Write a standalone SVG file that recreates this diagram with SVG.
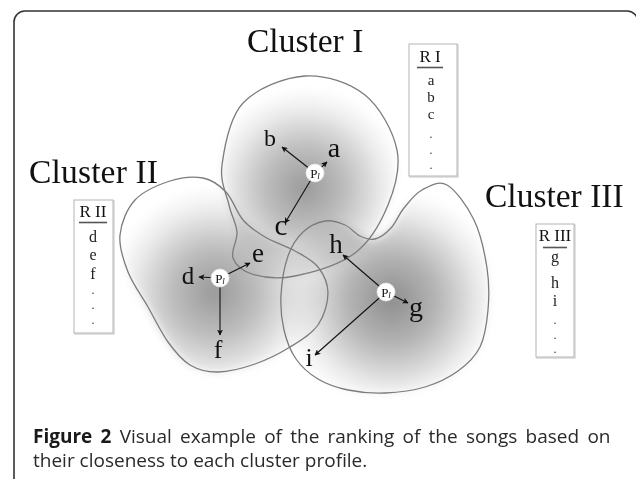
<svg xmlns="http://www.w3.org/2000/svg" width="636" height="479" viewBox="0 0 636 479">
  <style>
    .title { font-family: "Liberation Serif", "Times New Roman", serif; font-size: 33.5px; fill: #111; }
    .lbl { font-family: "Liberation Serif", "Times New Roman", serif; fill: #111; text-anchor: middle; }
    .rk { font-family: "Liberation Serif", "Times New Roman", serif; font-size: 16px; fill: #222; text-anchor: middle; }
    .rk1 { font-size: 15px; }
    .dot { font-family: "Liberation Serif", "Times New Roman", serif; font-size: 12px; fill: #333; text-anchor: middle; }
    .rkh { font-family: "Liberation Serif", "Times New Roman", serif; font-size: 17px; fill: #111; text-anchor: middle; }
    .box { fill: #fff; stroke: #b4b4b4; stroke-width: 1; }
    .boxsh { fill: none; stroke: #d8d8d8; stroke-width: 1.5; }
    .rule { stroke: #555; stroke-width: 1.6; }
    .outline { fill: none; stroke: #7c7c7c; stroke-width: 1.3; }
    .shade { mix-blend-mode: multiply; }
    .arrow { stroke: #111; stroke-width: 1.1; fill: none; marker-end: url(#head); }
    .pnode { fill: #fff; stroke: #e6e6e6; stroke-width: 0.8; }
    .ptxt { font-family: "Liberation Serif", "Times New Roman", serif; font-size: 13px; fill: #111; text-anchor: middle; }
    .cap { font-family: "Open Sans", "Noto Sans", sans-serif; font-size: 19px; fill: #2a2a2a; }
    .capb { font-weight: bold; fill: #1a1a1a; }
  </style>
  <defs>
    <marker id="head" viewBox="0 0 10 10" refX="9" refY="5" markerWidth="6" markerHeight="6" orient="auto" markerUnits="userSpaceOnUse">
      <path d="M0,0 L10,5 L0,10 L2.5,5 Z" fill="#111"/>
    </marker>
    <filter id="soft" x="-30%" y="-30%" width="160%" height="160%">
      <feGaussianBlur stdDeviation="5"/>
    </filter>
    <radialGradient id="g1" gradientUnits="userSpaceOnUse" cx="305" cy="188" r="100">
      <stop offset="0" stop-color="#9a9a9a"/>
      <stop offset="0.4" stop-color="#bdbdbd"/>
      <stop offset="0.8" stop-color="#eeeeee"/>
      <stop offset="1" stop-color="#ffffff"/>
    </radialGradient>
    <radialGradient id="g2" gradientUnits="userSpaceOnUse" cx="215" cy="292" r="105">
      <stop offset="0" stop-color="#999999"/>
      <stop offset="0.4" stop-color="#bcbcbc"/>
      <stop offset="0.8" stop-color="#eeeeee"/>
      <stop offset="1" stop-color="#ffffff"/>
    </radialGradient>
    <radialGradient id="g3" gradientUnits="userSpaceOnUse" cx="392" cy="300" r="110">
      <stop offset="0" stop-color="#8e8e8e"/>
      <stop offset="0.4" stop-color="#b4b4b4"/>
      <stop offset="0.8" stop-color="#ececec"/>
      <stop offset="1" stop-color="#ffffff"/>
    </radialGradient>
    <path id="c1" d="M305,76 C325.3,74.7 349.7,82.7 365,95 C380.3,107.3 393.2,131.7 397,150 C400.8,168.3 395,187.8 388,205 C381,222.2 370.5,241.2 355,253 C339.5,264.8 312.2,272.5 295,276 C277.8,279.5 262.3,277.3 252,274 C241.7,270.7 235.5,265 233,258 C230.5,251 237.7,240.8 237,232 C236.3,223.2 231.5,216.2 229,205 C226.5,193.8 219.7,182 222,165 C224.3,148 229.2,117.8 243,103 C256.8,88.2 284.7,77.3 305,76 Z"/>
    <path id="c2" d="M120,235 C121.2,223 126.7,209 135,200 C143.3,191 158.7,184.7 170,181 C181.3,177.3 193.7,176.2 203,178 C212.3,179.8 219.3,185 226,192 C232.7,199 236.5,212.5 243,220 C249.5,227.5 256.3,231.8 265,237 C273.7,242.2 286.2,246 295,251 C303.8,256 312.5,260 318,267 C323.5,274 328,283.3 328,293 C328,302.7 324.3,316 318,325 C311.7,334 300.5,340.5 290,347 C279.5,353.5 267,359.8 255,364 C243,368.2 228.8,371.8 218,372 C207.2,372.2 198.3,370 190,365 C181.7,360 175,351.7 168,342 C161,332.3 154.7,318.7 148,307 C141.3,295.3 132.7,284 128,272 C123.3,260 118.8,247 120,235 Z"/>
    <path id="c3" d="M447,185 C455.7,190 467.3,206.2 474,220 C480.7,233.8 484.7,253 487,268 C489.3,283 489.2,296.8 488,310 C486.8,323.2 485,336.8 480,347 C475,357.2 467.2,364.3 458,371 C448.8,377.7 437.2,383.3 425,387 C412.8,390.7 397.8,392.5 385,393 C372.2,393.5 359.2,392.3 348,390 C336.8,387.7 326.7,384.2 318,379 C309.3,373.8 301.7,367.2 296,359 C290.3,350.8 286.5,340.7 284,330 C281.5,319.3 280.3,307.3 281,295 C281.7,282.7 284.3,266.5 288,256 C291.7,245.5 296.8,237.8 303,232 C309.2,226.2 318,222.2 325,221 C332,219.8 339.2,222.5 345,225 C350.8,227.5 355,233.7 360,236 C365,238.3 369.8,240.3 375,239 C380.2,237.7 386.2,233.2 391,228 C395.8,222.8 398.8,214.3 404,208 C409.2,201.7 414.8,193.8 422,190 C429.2,186.2 438.3,180 447,185 Z"/>
  </defs>

  <rect width="636" height="479" fill="#fff"/>

  <!-- outer frame -->
  <rect x="14" y="11" width="624" height="520" rx="11" fill="none" stroke="#333" stroke-width="1.6"/>

  <!-- shaded cluster regions -->
  <g id="shading">
    <use href="#c1" class="shade" fill="url(#g1)" filter="url(#soft)"/>
    <use href="#c2" class="shade" fill="url(#g2)" filter="url(#soft)"/>
    <use href="#c3" class="shade" fill="url(#g3)" filter="url(#soft)"/>
  </g>

  <!-- cluster boundaries -->
  <g id="cluster-1">
    <use href="#c1" class="outline"/>
    <text class="title" x="247" y="52">Cluster I</text>
  </g>
  <g id="cluster-2">
    <use href="#c2" class="outline"/>
    <text class="title" x="29" y="183" textLength="129">Cluster II</text>
  </g>
  <g id="cluster-3">
    <use href="#c3" class="outline"/>
    <text class="title" x="485" y="207">Cluster III</text>
  </g>

  <!-- connectors from each profile to its songs -->
  <g id="connectors">
    <line class="arrow" x1="315" y1="173" x2="282" y2="147"/>
    <line class="arrow" x1="315" y1="173" x2="327" y2="162"/>
    <line class="arrow" x1="315" y1="173" x2="285" y2="223"/>
    <line class="arrow" x1="220" y1="278" x2="199" y2="277"/>
    <line class="arrow" x1="220" y1="278" x2="250" y2="263"/>
    <line class="arrow" x1="220" y1="278" x2="220" y2="335"/>
    <line class="arrow" x1="386" y1="292" x2="343" y2="255"/>
    <line class="arrow" x1="386" y1="292" x2="408" y2="303"/>
    <line class="arrow" x1="386" y1="292" x2="315" y2="355"/>
  </g>

  <!-- profile nodes -->
  <g id="profile-1">
    <circle class="pnode" cx="315" cy="173" r="9"/>
    <text class="ptxt" x="315" y="177.5">P<tspan font-style="italic" font-size="9" dy="1">l</tspan></text>
  </g>
  <g id="profile-2">
    <circle class="pnode" cx="220" cy="278" r="9"/>
    <text class="ptxt" x="220" y="282.5">P<tspan font-style="italic" font-size="9" dy="1">l</tspan></text>
  </g>
  <g id="profile-3">
    <circle class="pnode" cx="386" cy="292" r="9"/>
    <text class="ptxt" x="386" y="296.5">P<tspan font-style="italic" font-size="9" dy="1">l</tspan></text>
  </g>

  <!-- song labels -->
  <g id="song-a"><text class="lbl" x="334" y="157" font-size="28">a</text></g>
  <g id="song-b"><text class="lbl" x="270" y="146" font-size="24">b</text></g>
  <g id="song-c"><text class="lbl" x="281" y="235" font-size="29">c</text></g>
  <g id="song-d"><text class="lbl" x="188" y="284" font-size="25">d</text></g>
  <g id="song-e"><text class="lbl" x="258" y="262" font-size="27">e</text></g>
  <g id="song-f"><text class="lbl" x="218" y="358" font-size="26">f</text></g>
  <g id="song-g"><text class="lbl" x="416" y="316" font-size="28">g</text></g>
  <g id="song-h"><text class="lbl" x="336" y="253" font-size="27">h</text></g>
  <g id="song-i"><text class="lbl" x="309" y="366" font-size="26">i</text></g>

  <!-- ranking lists -->
  <g id="rank-1">
    <rect class="boxsh" x="410" y="45" width="48" height="132"/>
    <rect class="box" x="409" y="44" width="48" height="132"/>
    <text class="rkh" x="430" y="62">R I</text>
    <line class="rule" x1="417" y1="67.5" x2="443" y2="67.5"/>
    <text class="rk rk1" x="431" y="85">a</text>
    <text class="rk rk1" x="431" y="102">b</text>
    <text class="rk rk1" x="431" y="119">c</text>
    <text class="dot" x="431" y="138">.</text>
    <text class="dot" x="431" y="154">.</text>
    <text class="dot" x="431" y="169">.</text>
  </g>
  <g id="rank-2">
    <rect class="boxsh" x="75" y="201" width="39" height="133"/>
    <rect class="box" x="74" y="200" width="39" height="133"/>
    <text class="rkh" x="93" y="217">R II</text>
    <line class="rule" x1="79" y1="222.5" x2="107" y2="222.5"/>
    <text class="rk" x="93" y="242">d</text>
    <text class="rk" x="93" y="260">e</text>
    <text class="rk" x="93" y="279">f</text>
    <text class="dot" x="93" y="294">.</text>
    <text class="dot" x="93" y="309">.</text>
    <text class="dot" x="93" y="324">.</text>
  </g>
  <g id="rank-3">
    <rect class="boxsh" x="537" y="225" width="38" height="133"/>
    <rect class="box" x="536" y="224" width="38" height="133"/>
    <text class="rkh" x="555" y="241">R III</text>
    <line class="rule" x1="543" y1="247.5" x2="567" y2="247.5"/>
    <text class="rk" x="555" y="262">g</text>
    <text class="rk" x="555" y="288">h</text>
    <text class="rk" x="555" y="306">i</text>
    <text class="dot" x="555" y="324">.</text>
    <text class="dot" x="555" y="339">.</text>
    <text class="dot" x="555" y="353">.</text>
  </g>

  <!-- caption -->
  <text class="cap" x="33" y="443" word-spacing="3.3"><tspan class="capb">Figure 2</tspan> Visual example of the ranking of the songs based on</text>
  <text class="cap" x="33" y="467">their closeness to each cluster profile.</text>
</svg>
